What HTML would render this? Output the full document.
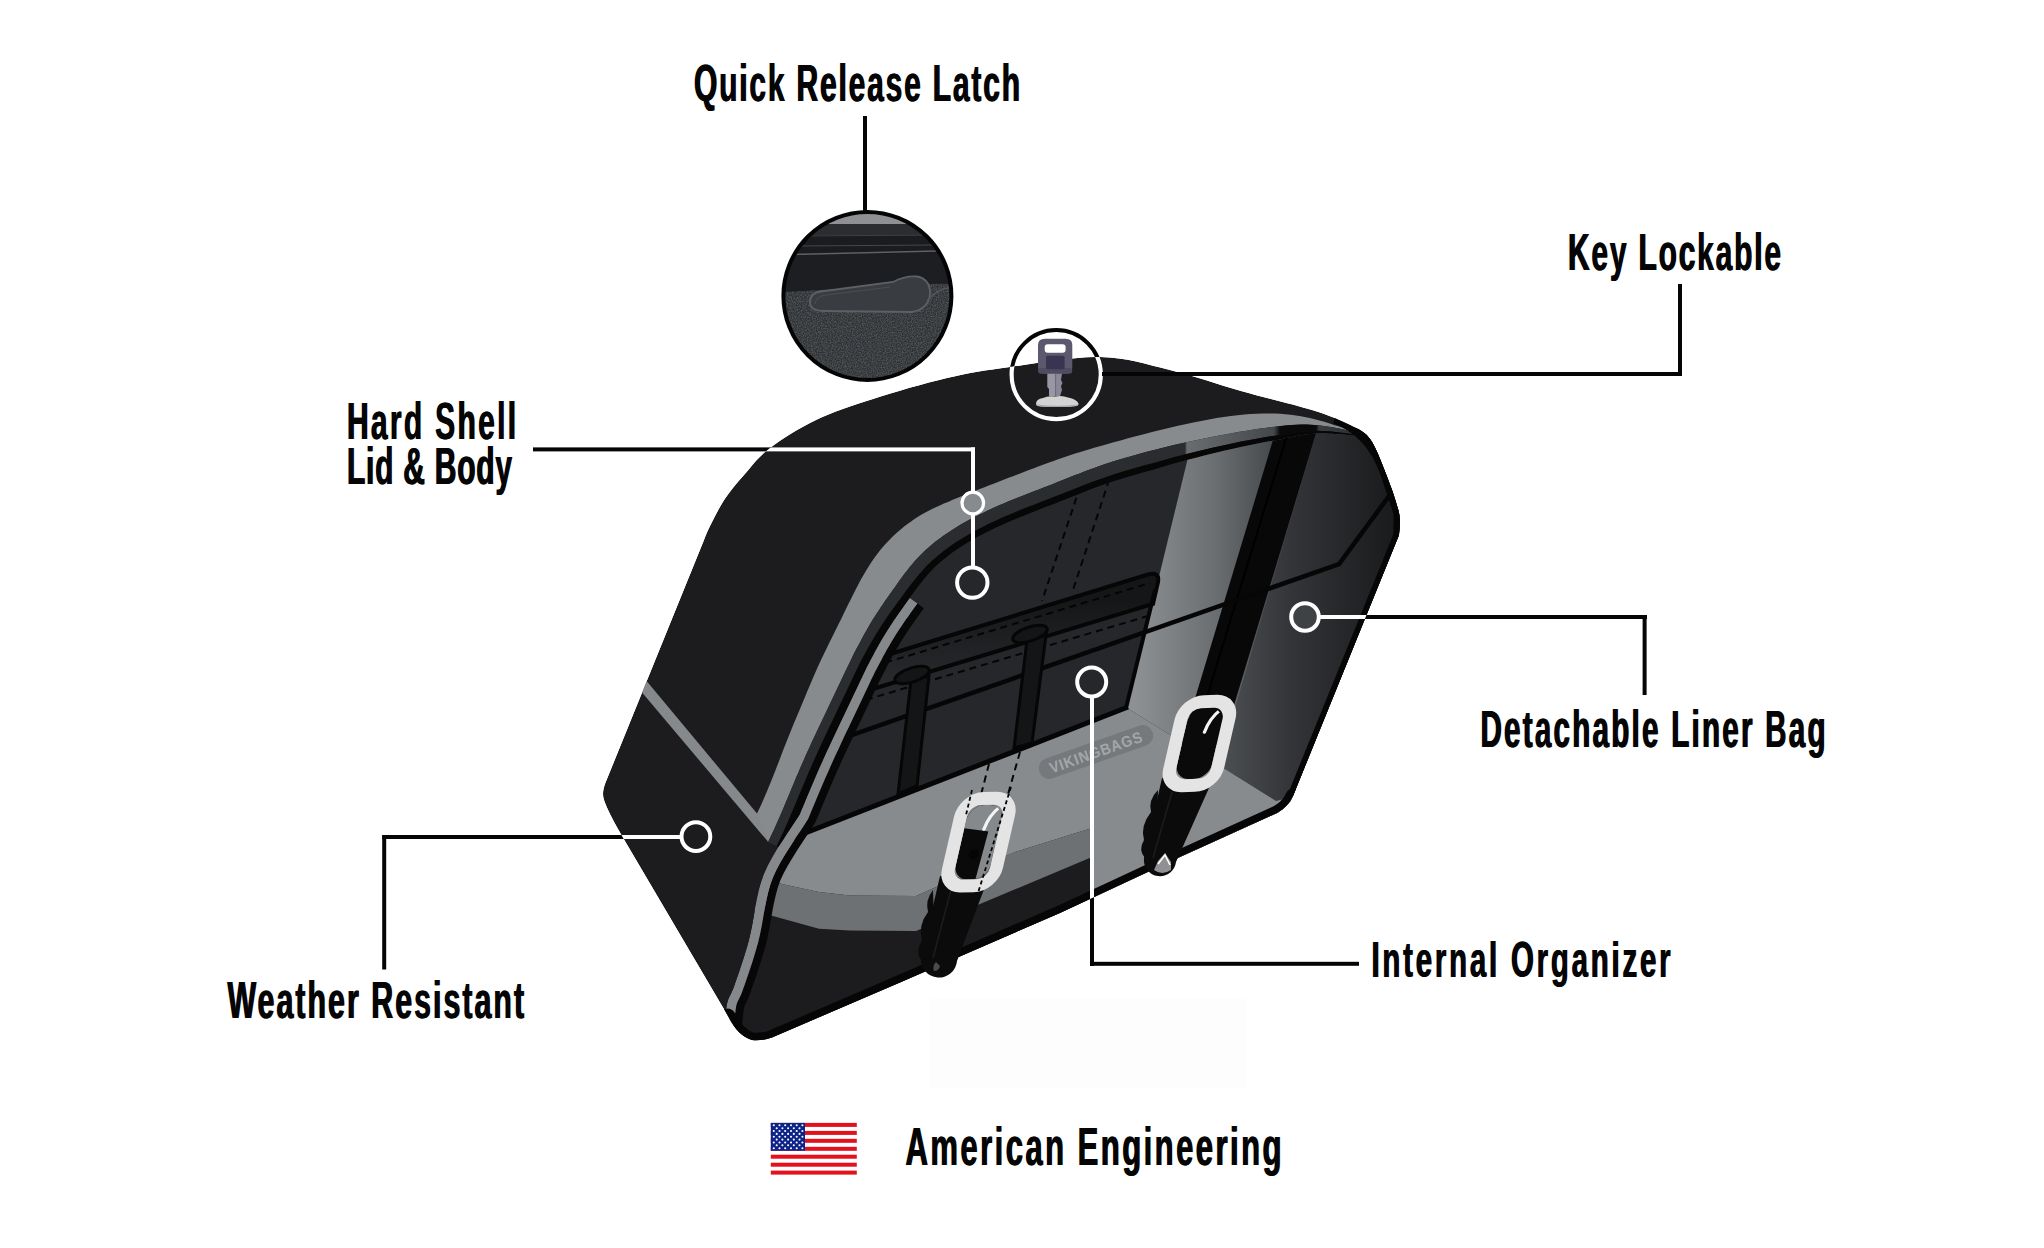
<!DOCTYPE html>
<html><head><meta charset="utf-8"><title>Saddlebag Features</title>
<style>
html,body{margin:0;padding:0;background:#fff;width:2044px;height:1248px;overflow:hidden}
svg{display:block}
text{font-family:"Liberation Sans",sans-serif;font-weight:bold;fill:#050505}
</style></head><body>
<svg width="2044" height="1248" viewBox="0 0 2044 1248">
<defs>
<linearGradient id="gLight" gradientUnits="userSpaceOnUse" x1="1135" y1="0" x2="1285" y2="0">
<stop offset="0" stop-color="#8e9194"/><stop offset="0.55" stop-color="#6a6d70"/><stop offset="1" stop-color="#3f4245"/></linearGradient>
<linearGradient id="gRight" gradientUnits="userSpaceOnUse" x1="1200" y1="0" x2="1400" y2="0">
<stop offset="0" stop-color="#55585b"/><stop offset="0.45" stop-color="#333538"/><stop offset="1" stop-color="#18191b"/></linearGradient>
<linearGradient id="gFlap" gradientUnits="userSpaceOnUse" x1="0" y1="600" x2="0" y2="690">
<stop offset="0" stop-color="#151618"/><stop offset="1" stop-color="#2a2c2f"/></linearGradient>
<linearGradient id="gTopStrip" gradientUnits="userSpaceOnUse" x1="1100" y1="0" x2="1360" y2="0">
<stop offset="0" stop-color="#2b2d30"/><stop offset="0.35" stop-color="#55585b"/><stop offset="1" stop-color="#2a2b2d"/></linearGradient>
<linearGradient id="gStrip" gradientUnits="userSpaceOnUse" x1="1100" y1="0" x2="1400" y2="0">
<stop offset="0" stop-color="#2a2c2f"/><stop offset="0.283" stop-color="#2a2c2f"/><stop offset="0.29" stop-color="#6a6d70"/><stop offset="0.58" stop-color="#45484b"/><stop offset="0.6" stop-color="#0a0a0a"/><stop offset="0.72" stop-color="#0a0a0a"/><stop offset="0.73" stop-color="#3a3c3f"/><stop offset="1" stop-color="#1e1f21"/></linearGradient>
<clipPath id="cSil"><path d="M607,779 L704,540 C705,537.7 706.6,532.8 710,526 C713.4,519.2 719,507.8 724.6,499.3 C730.2,490.9 736.4,483.7 743.8,475.3 C751.2,466.9 757,458 769,448.8 C781,439.6 798.7,428.3 816,420 C833.3,411.7 851.2,406 873,399 C894.8,392 924.2,383.3 947,378 C969.8,372.7 984.5,370.5 1010,367 C1035.5,363.5 1073.3,356.5 1100,357 C1126.7,357.5 1146.5,364.3 1170,370 C1193.5,375.7 1217.3,384.3 1241,391 C1264.7,397.7 1293.8,404.3 1312,410 C1330.2,415.7 1340.3,420.2 1350,425 C1359.7,429.8 1364,430.8 1370,439 C1376,447.2 1381.2,461.7 1386,474 C1390.8,486.3 1396.8,502.8 1399,513 C1401.2,523.2 1399,531.3 1399,535 L1293,796 Q1289,806 1277.6,812.7 L1180,857 L1060,913 L900,982.5 L772,1037.5 Q762,1041 752,1040 Q738,1036 728,1016 L622,836 Q608,812 604,800 Q601,792 607,779 Z"/></clipPath>
<clipPath id="cR"><path d="M1353,435.7 L1350.8,435.5 L1347.9,435.1 L1344.8,434.8 L1341.5,434.5 L1338.1,434.3 L1334.9,434 L1331.6,433.8 L1328.2,433.7 L1324.7,433.6 L1321.2,433.6 L1317.7,433.6 L1314,433.8 L1310.2,434.1 L1306.2,434.6 L1301.9,435.1 L1297.2,435.9 L1292.1,436.9 L1286.5,438.1 L1280.4,439.4 L1273.7,440.5 L1266.5,441.8 L1258.7,443.2 L1250.5,444.9 L1241.9,446.7 L1233,448.7 L1223.9,450.8 L1214.6,453 L1205.3,455.3 L1196,457.7 L1186.8,460.1 L1177.9,462.6 L1169.1,465.1 L1160.7,467.6 L1152.5,470 L1144.6,472.1 L1137.2,474.2 L1130.1,476.2 L1123.4,478.3 L1117.1,480.2 L1111.2,482.1 L1105.7,484 L1100.5,485.8 L1095.7,487.6 L1091,489.3 L1086.5,491.1 L1082.2,492.8 L1077.8,494.5 L1073.5,496.2 L1069.1,498 L1064.6,499.8 L1060,501.6 L1055.4,503.4 L1050.6,505.2 L1045.7,507.1 L1040.8,509 L1035.8,510.9 L1030.8,512.9 L1025.8,514.9 L1020.8,516.9 L1015.9,518.9 L1011,520.9 L1006.2,523 L1001.4,525.2 L996.7,527.3 L992.1,529.5 L987.6,531.7 L983.2,534 L978.8,536.3 L974.5,538.6 L970.3,541 L966.3,543.5 L962.3,546 L958.4,548.5 L954.7,551 L951.1,553.6 L947.6,556.3 L944.3,558.9 L941.1,561.6 L938,564.3 L935,567.1 L932.2,570 L929.5,572.8 L926.8,575.8 L924.3,578.8 L921.8,581.9 L919.3,585 L916.9,588.2 L914.5,591.5 L912.1,594.7 L909.7,598 L907.3,601.3 L905,604.5 L902.7,607.8 L900.4,611 L898.1,614.2 L895.9,617.4 L893.7,620.6 L891.5,623.9 L889.4,627.2 L887.3,630.5 L885.1,633.9 L883,637.4 L880.9,641 L878.9,644.6 L876.8,648.3 L874.7,652.1 L872.7,655.9 L870.6,659.8 L868.6,663.7 L866.6,667.6 L864.7,671.5 L862.8,675.5 L860.9,679.5 L859,683.5 L857.1,687.5 L855.2,691.5 L853.3,695.5 L851.4,699.5 L849.5,703.5 L847.6,707.5 L845.7,711.5 L843.8,715.5 L841.9,719.5 L840,723.5 L838.1,727.5 L836.2,731.5 L834.3,735.5 L832.4,739.5 L830.5,743.4 L828.7,747.4 L826.9,751.3 L825.1,755.3 L823.3,759.2 L821.5,763.2 L819.8,767.1 L818,771.1 L816.3,775.1 L814.6,779.1 L812.9,783.1 L811.2,787.1 L809.5,791.1 L807.8,795.1 L806.1,799.1 L804.5,803.1 L802.8,807 L801.2,810.8 L799.7,814.5 L796.8,819.1 L792.8,825.1 L788,832.3 L782.8,840.3 L777.4,848.8 L772.3,857.5 L767.7,866 L764,874.2 L761.1,882.3 L758.8,890.6 L756.9,899.2 L755.2,907.8 L753.7,916.4 L752.3,924.6 L750.7,932.5 L749,939.8 L747.1,946.7 L745.1,953.3 L743.1,959.7 L741.1,965.8 L739.2,971.5 L737.4,976.8 L735.7,981.6 L734.2,985.9 L732.9,989.4 L731.7,992.1 L730.7,994.2 L729.8,996 L729,997.6 L728.2,999.4 L727.6,1001.6 L726.9,1004.3 L726.3,1007.8 L725.8,1012 L725.4,1016.6 L725,1021.3 L724.7,1025.8 L724.4,1030 L724.2,1033.5 L724,1036 L741,1055 L779,1055 L1295,820 L1330,720 L1410,535 L1410,510 L1395,470 L1376,432 Z"/></clipPath>
</defs>
<rect width="2044" height="1248" fill="#fff"/>
<rect x="929.7" y="997.7" width="316" height="90" fill="#fdfdfd"/>
<g clip-path="url(#cSil)">
<path d="M607,779 L704,540 C705,537.7 706.6,532.8 710,526 C713.4,519.2 719,507.8 724.6,499.3 C730.2,490.9 736.4,483.7 743.8,475.3 C751.2,466.9 757,458 769,448.8 C781,439.6 798.7,428.3 816,420 C833.3,411.7 851.2,406 873,399 C894.8,392 924.2,383.3 947,378 C969.8,372.7 984.5,370.5 1010,367 C1035.5,363.5 1073.3,356.5 1100,357 C1126.7,357.5 1146.5,364.3 1170,370 C1193.5,375.7 1217.3,384.3 1241,391 C1264.7,397.7 1293.8,404.3 1312,410 C1330.2,415.7 1340.3,420.2 1350,425 C1359.7,429.8 1364,430.8 1370,439 C1376,447.2 1381.2,461.7 1386,474 C1390.8,486.3 1396.8,502.8 1399,513 C1401.2,523.2 1399,531.3 1399,535 L1293,796 Q1289,806 1277.6,812.7 L1180,857 L1060,913 L900,982.5 L772,1037.5 Q762,1041 752,1040 Q738,1036 728,1016 L622,836 Q608,812 604,800 Q601,792 607,779 Z" fill="#1c1c1e"/>
<polygon points="641.8,675.3 757,813.5 768.5,842.3 633.4,682.3" fill="#86898c"/>
<path d="M1354,432 L1351,430.8 L1347.1,429.3 L1342.9,427.8 L1338.5,426.3 L1334,424.9 L1329.7,423.5 L1325.1,422.1 L1320.4,420.7 L1315.7,419.5 L1310.9,418.3 L1306,417.3 L1301,416.3 L1295.9,415.5 L1290.7,414.8 L1285.4,414.3 L1280,413.8 L1274.5,413.6 L1268.8,413.5 L1262.9,413.5 L1256.9,413.7 L1250.7,414 L1244.3,414.5 L1237.6,415.2 L1230.8,416 L1223.7,417 L1216.5,418.1 L1208.9,419.4 L1201.2,420.9 L1193.3,422.4 L1185.2,424.2 L1177,426 L1168.7,428 L1160.3,430 L1152,432.1 L1143.8,434.2 L1135.8,436.3 L1128,438.3 L1120.6,440.4 L1113.6,442.3 L1106.9,444.2 L1100.7,445.9 L1095,447.6 L1089.5,449.2 L1084.5,450.7 L1079.7,452.2 L1075.1,453.6 L1070.7,455.1 L1066.3,456.5 L1061.9,458 L1057.5,459.6 L1053,461.2 L1048.4,462.8 L1043.7,464.6 L1038.8,466.3 L1033.9,468.2 L1028.9,470.1 L1023.9,472 L1018.8,473.9 L1013.7,475.9 L1008.6,477.8 L1003.6,479.8 L998.6,481.7 L993.6,483.7 L988.7,485.6 L983.9,487.5 L979.1,489.3 L974.5,491.2 L969.9,493 L965.3,494.8 L960.9,496.6 L956.5,498.3 L952.2,500.1 L948,501.9 L943.9,503.6 L939.8,505.4 L935.8,507.2 L932,509.1 L928.2,511.1 L924.4,513.1 L920.8,515.1 L917.2,517.3 L913.8,519.6 L910.4,521.9 L907.1,524.3 L903.8,526.8 L900.7,529.4 L897.6,532 L894.6,534.8 L891.7,537.5 L888.9,540.4 L886.2,543.3 L883.5,546.3 L880.9,549.3 L878.4,552.5 L875.9,555.8 L873.4,559.2 L871,562.7 L868.7,566.4 L866.3,570.2 L864,574.2 L861.6,578.3 L859.3,582.6 L857,586.9 L854.7,591.4 L852.4,595.9 L850.2,600.5 L847.9,605.1 L845.7,609.6 L843.4,614.2 L841.3,618.7 L839.1,623.1 L836.9,627.4 L834.8,631.7 L832.7,635.9 L830.7,640 L828.7,644.1 L826.7,648.2 L824.7,652.2 L822.8,656.2 L821,660.1 L819.1,664.1 L817.3,668.1 L815.6,672.1 L813.8,676 L812.1,680 L810.4,684 L808.7,688 L807,691.9 L805.4,695.9 L803.7,699.9 L802,703.9 L800.4,707.9 L798.7,711.9 L797,715.9 L795.3,720 L793.6,724.1 L791.9,728.2 L790.2,732.4 L788.5,736.7 L786.8,740.9 L785.1,745.3 L783.4,749.6 L781.7,754 L780.1,758.3 L778.4,762.7 L776.7,767 L775.1,771.2 L773.4,775.4 L771.8,779.4 L770.3,783.3 L768.7,787.1 L767.2,790.8 L765.7,794.3 L764.3,797.6 L762.9,800.7 L761.5,803.9 L760.1,807 L758.8,809.8 L757.6,812.3 L756.7,814.3 L768.1,841.9 L768.8,840.5 L769.7,838.7 L770.7,836.6 L771.8,834.3 L773,831.8 L774.1,829.4 L775.3,826.8 L776.5,824 L777.8,821.1 L779.2,817.9 L780.6,814.7 L782.1,811.3 L783.6,807.7 L785.1,804 L786.7,800.2 L788.3,796.4 L790,792.4 L791.6,788.4 L793.3,784.4 L795,780.3 L796.7,776.2 L798.5,772.2 L800.2,768.1 L802,764.1 L803.8,760.1 L805.5,756 L807.3,752 L809.2,748 L811,744 L812.8,740 L814.7,736 L816.6,732 L818.5,728 L820.4,724 L822.3,720 L824.2,716 L826.1,712 L828,708 L829.9,704 L831.8,700 L833.7,696 L835.6,692 L837.5,688 L839.4,684 L841.3,680 L843.2,676 L845.1,671.9 L847,667.9 L849,663.9 L850.9,659.9 L852.9,655.8 L854.9,651.8 L857,647.8 L859.1,643.9 L861.2,639.9 L863.3,636 L865.4,632.2 L867.6,628.5 L869.7,624.8 L871.9,621.1 L874.1,617.6 L876.4,614.1 L878.6,610.7 L880.8,607.3 L883.1,603.9 L885.4,600.6 L887.7,597.3 L890,594 L892.3,590.7 L894.7,587.4 L897.1,584 L899.5,580.6 L902,577.2 L904.5,573.8 L907.1,570.4 L909.8,567 L912.6,563.7 L915.5,560.3 L918.6,557 L921.8,553.8 L925.1,550.6 L928.6,547.4 L932.2,544.3 L935.9,541.3 L939.8,538.4 L943.7,535.5 L947.9,532.7 L952.1,529.9 L956.4,527.3 L960.8,524.6 L965.2,522.1 L969.8,519.6 L974.4,517.1 L979.1,514.7 L983.9,512.4 L988.7,510.1 L993.6,507.8 L998.6,505.6 L1003.6,503.5 L1008.6,501.3 L1013.7,499.3 L1018.8,497.2 L1023.9,495.2 L1028.9,493.2 L1033.9,491.3 L1038.9,489.4 L1043.7,487.5 L1048.5,485.7 L1053.1,483.9 L1057.6,482.1 L1062.1,480.3 L1066.5,478.6 L1070.8,476.8 L1075.2,475.1 L1079.7,473.4 L1084.3,471.6 L1089.1,469.8 L1094.1,467.9 L1099.5,466 L1105.2,464.1 L1111.3,462.1 L1117.8,460.1 L1124.7,458 L1131.9,455.9 L1139.6,453.8 L1147.7,451.6 L1156.1,449.4 L1164.8,447.3 L1173.8,445.1 L1183,443 L1192.4,440.9 L1201.9,438.9 L1211.4,437 L1220.9,435.2 L1230.3,433.4 L1239.4,431.8 L1248.2,430.4 L1256.6,429.1 L1264.6,427.9 L1272,427 L1279,426.2 L1285.4,425.5 L1291.3,425.1 L1296.7,424.8 L1301.7,424.6 L1306.3,424.6 L1310.6,424.7 L1314.7,425 L1318.5,425.3 L1322.2,425.7 L1325.8,426.2 L1329.3,426.7 L1332.7,427.3 L1336.1,428 L1339.3,428.6 L1342.6,429.3 L1345.8,430 L1349,430.7 L1351.8,431.4 L1354,432 Z" fill="#888b8e"/>
<polygon points="1354,432 1351.8,431.4 1349,430.7 1345.8,430 1342.6,429.3 1339.3,428.6 1336.1,428 1332.7,427.3 1329.3,426.7 1325.8,426.2 1322.2,425.7 1318.5,425.3 1314.7,425 1310.6,424.7 1306.3,424.6 1301.7,424.6 1296.7,424.8 1291.3,425.1 1285.4,425.5 1279,426.2 1272,427 1264.6,427.9 1256.6,429.1 1248.2,430.4 1239.4,431.8 1230.3,433.4 1220.9,435.2 1211.4,437 1201.9,438.9 1192.4,440.9 1183,443 1173.8,445.1 1164.8,447.3 1156.1,449.4 1147.7,451.6 1139.6,453.8 1131.9,455.9 1124.7,458 1117.8,460.1 1111.3,462.1 1105.2,464.1 1099.5,466 1094.1,467.9 1089.1,469.8 1084.3,471.6 1079.7,473.4 1075.2,475.1 1070.8,476.8 1066.5,478.6 1062.1,480.3 1057.6,482.1 1053.1,483.9 1048.5,485.7 1043.7,487.5 1038.9,489.4 1033.9,491.3 1028.9,493.2 1023.9,495.2 1018.8,497.2 1013.7,499.3 1008.6,501.3 1003.6,503.5 998.6,505.6 993.6,507.8 988.7,510.1 983.9,512.4 979.1,514.7 974.4,517.1 969.8,519.6 965.2,522.1 960.8,524.6 956.4,527.3 952.1,529.9 947.9,532.7 943.7,535.5 939.8,538.4 935.9,541.3 932.2,544.3 928.6,547.4 925.1,550.6 921.8,553.8 918.6,557 915.5,560.3 912.6,563.7 909.8,567 907.1,570.4 904.5,573.8 902,577.2 899.5,580.6 897.1,584 894.7,587.4 892.3,590.7 890,594 887.7,597.3 885.4,600.6 883.1,603.9 880.8,607.3 878.6,610.7 876.4,614.1 874.1,617.6 871.9,621.1 869.7,624.8 867.6,628.5 865.4,632.2 863.3,636 861.2,639.9 859.1,643.9 857,647.8 854.9,651.8 852.9,655.8 850.9,659.9 849,663.9 847,667.9 845.1,671.9 843.2,676 841.3,680 839.4,684 837.5,688 835.6,692 833.7,696 831.8,700 829.9,704 828,708 826.1,712 824.2,716 822.3,720 820.4,724 818.5,728 816.6,732 814.7,736 812.8,740 811,744 809.2,748 807.3,752 805.5,756 803.8,760.1 802,764.1 800.2,768.1 798.5,772.2 796.7,776.2 795,780.3 793.3,784.4 791.6,788.4 790,792.4 788.3,796.4 786.7,800.2 785.1,804 783.6,807.7 782.1,811.3 780.6,814.7 779.2,817.9 777.8,821.1 776.5,824 775.3,826.8 774.1,829.4 773,831.8 771.8,834.3 770.7,836.6 769.7,838.7 768.8,840.5 768.1,841.9 776.6,846.1 777.3,844.7 778.2,842.9 779.3,840.7 780.4,838.3 781.6,835.8 782.7,833.4 783.9,830.7 785.2,827.9 786.5,824.9 787.9,821.7 789.3,818.4 790.8,815 792.3,811.4 793.9,807.7 795.5,803.9 797.1,800 798.7,796.1 800.4,792.1 802.1,788 803.8,784 805.5,780 807.2,775.9 808.9,771.9 810.7,767.9 812.4,763.9 814.2,759.9 816,755.9 817.8,751.9 819.6,748 821.5,744 823.3,740 825.2,736.1 827.1,732.1 828.9,728.1 830.9,724.1 832.8,720.1 834.7,716.1 836.6,712.1 838.5,708.1 840.4,704.1 842.3,700.1 844.2,696.1 846.1,692 848,688 849.9,684 851.8,680 853.7,676 855.6,672 857.5,668 859.5,664.1 861.5,660.1 863.6,656.2 865.7,652.3 867.8,648.5 870,644.7 872.1,640.9 874.3,637.2 876.5,633.6 878.7,630.1 880.9,626.6 883.1,623.2 885.3,619.9 887.6,616.6 889.8,613.3 892.1,610.1 894.4,606.9 896.8,603.6 899.1,600.4 901.5,597.2 903.9,593.9 906.3,590.6 908.8,587.4 911.3,584.1 913.8,580.9 916.4,577.7 919,574.5 921.7,571.4 924.5,568.3 927.3,565.3 930.3,562.4 933.5,559.5 936.7,556.7 940.1,553.9 943.6,551.1 947.2,548.4 950.9,545.7 954.8,543.1 958.8,540.5 962.9,537.9 967.1,535.4 971.3,533 975.7,530.6 980.2,528.2 984.7,525.9 989.3,523.6 994,521.4 998.8,519.2 1003.6,517.1 1008.5,515 1013.4,512.9 1018.4,510.8 1023.4,508.8 1028.4,506.8 1033.5,504.9 1038.4,502.9 1043.4,501 1048.2,499.2 1053,497.3 1057.7,495.5 1062.2,493.7 1066.7,491.9 1071.1,490.2 1075.4,488.5 1079.8,486.7 1084.2,485 1088.7,483.3 1093.4,481.5 1098.4,479.7 1103.6,477.9 1109.2,476 1115.1,474 1121.5,472 1128.2,470 1135.4,467.9 1142.9,465.8 1150.8,463.7 1159.1,461.4 1167.6,459 1176.5,456.6 1185.5,454.3 1194.8,451.9 1204.1,449.7 1213.5,447.5 1222.9,445.4 1232.1,443.5 1241.1,441.6 1249.7,439.9 1258,438.4 1265.8,437 1273.1,435.9 1279.9,434.9 1286.1,433.8 1291.8,432.8 1297,432.1 1301.8,431.5 1306.2,431.2 1310.4,430.9 1314.3,430.8 1318,430.8 1321.6,430.9 1325.1,431.1 1328.6,431.3 1332,431.6 1335.3,432 1338.5,432.3 1341.9,432.7 1345.1,433.1 1348.3,433.6 1351.1,434.1 1353.4,434.5" fill="url(#gStrip)"/>
<polygon points="1353.4,434.5 1351.1,434.1 1348.3,433.6 1345.1,433.1 1341.9,432.7 1338.5,432.3 1335.3,432 1332,431.6 1328.6,431.3 1325.1,431.1 1321.6,430.9 1318,430.8 1314.3,430.8 1310.4,430.9 1306.2,431.2 1301.8,431.5 1297,432.1 1291.8,432.8 1286.1,433.8 1279.9,434.9 1273.1,435.9 1265.8,437 1258,438.4 1249.7,439.9 1241.1,441.6 1232.1,443.5 1222.9,445.4 1213.5,447.5 1204.1,449.7 1194.8,451.9 1185.5,454.3 1176.5,456.6 1167.6,459 1159.1,461.4 1150.8,463.7 1142.9,465.8 1135.4,467.9 1128.2,470 1121.5,472 1115.1,474 1109.2,476 1103.6,477.9 1098.4,479.7 1093.4,481.5 1088.7,483.3 1084.2,485 1079.8,486.7 1075.4,488.5 1071.1,490.2 1066.7,491.9 1062.2,493.7 1057.7,495.5 1053,497.3 1048.2,499.2 1043.4,501 1038.4,502.9 1033.5,504.9 1028.4,506.8 1023.4,508.8 1018.4,510.8 1013.4,512.9 1008.5,515 1003.6,517.1 998.8,519.2 994,521.4 989.3,523.6 984.7,525.9 980.2,528.2 975.7,530.6 971.3,533 967.1,535.4 962.9,537.9 958.8,540.5 954.8,543.1 950.9,545.7 947.2,548.4 943.6,551.1 940.1,553.9 936.7,556.7 933.5,559.5 930.3,562.4 927.3,565.3 924.5,568.3 921.7,571.4 919,574.5 916.4,577.7 913.8,580.9 911.3,584.1 908.8,587.4 906.3,590.6 903.9,593.9 901.5,597.2 899.1,600.4 896.8,603.6 894.4,606.9 892.1,610.1 889.8,613.3 887.6,616.6 885.3,619.9 883.1,623.2 880.9,626.6 878.7,630.1 876.5,633.6 874.3,637.2 872.1,640.9 870,644.7 867.8,648.5 865.7,652.3 863.6,656.2 861.5,660.1 859.5,664.1 857.5,668 855.6,672 853.7,676 851.8,680 849.9,684 848,688 846.1,692 844.2,696.1 842.3,700.1 840.4,704.1 838.5,708.1 836.6,712.1 834.7,716.1 832.8,720.1 830.9,724.1 828.9,728.1 827.1,732.1 825.2,736.1 823.3,740 821.5,744 819.6,748 817.8,751.9 816,755.9 814.2,759.9 812.4,763.9 810.7,767.9 808.9,771.9 807.2,775.9 805.5,780 803.8,784 802.1,788 800.4,792.1 798.7,796.1 797.1,800 795.5,803.9 793.9,807.7 792.3,811.4 790.8,815 789.3,818.4 787.9,821.7 786.5,824.9 785.2,827.9 783.9,830.7 782.7,833.4 781.6,835.8 780.4,838.3 779.3,840.7 778.2,842.9 777.3,844.7 776.6,846.1 783.8,849.7 784.5,848.3 785.4,846.4 786.5,844.1 787.7,841.7 788.8,839.1 790,836.7 791.2,834 792.5,831.1 793.8,828.1 795.2,824.9 796.7,821.6 798.2,818.1 799.7,814.5 801.2,810.8 802.8,807 804.5,803.1 806.1,799.1 807.8,795.1 809.5,791.1 811.2,787.1 812.9,783.1 814.6,779.1 816.3,775.1 818,771.1 819.8,767.1 821.5,763.2 823.3,759.2 825.1,755.3 826.9,751.3 828.7,747.4 830.5,743.4 832.4,739.5 834.3,735.5 836.2,731.5 838.1,727.5 840,723.5 841.9,719.5 843.8,715.5 845.7,711.5 847.6,707.5 849.5,703.5 851.4,699.5 853.3,695.5 855.2,691.5 857.1,687.5 859,683.5 860.9,679.5 862.8,675.5 864.7,671.5 866.6,667.6 868.6,663.7 870.6,659.8 872.7,655.9 874.7,652.1 876.8,648.3 878.9,644.6 880.9,641 883,637.4 885.1,633.9 887.3,630.5 889.4,627.2 891.5,623.9 893.7,620.6 895.9,617.4 898.1,614.2 900.4,611 902.7,607.8 905,604.5 907.3,601.3 909.7,598 912.1,594.7 914.5,591.5 916.9,588.2 919.3,585 921.8,581.9 924.3,578.8 926.8,575.8 929.5,572.8 932.2,570 935,567.1 938,564.3 941.1,561.6 944.3,558.9 947.6,556.3 951.1,553.6 954.7,551 958.4,548.5 962.3,546 966.3,543.5 970.3,541 974.5,538.6 978.8,536.3 983.2,534 987.6,531.7 992.1,529.5 996.7,527.3 1001.4,525.2 1006.2,523 1011,520.9 1015.9,518.9 1020.8,516.9 1025.8,514.9 1030.8,512.9 1035.8,510.9 1040.8,509 1045.7,507.1 1050.6,505.2 1055.4,503.4 1060,501.6 1064.6,499.8 1069.1,498 1073.5,496.2 1077.8,494.5 1082.2,492.8 1086.5,491.1 1091,489.3 1095.7,487.6 1100.5,485.8 1105.7,484 1111.2,482.1 1117.1,480.2 1123.4,478.3 1130.1,476.2 1137.2,474.2 1144.6,472.1 1152.5,470 1160.7,467.6 1169.1,465.1 1177.9,462.6 1186.8,460.1 1196,457.7 1205.3,455.3 1214.6,453 1223.9,450.8 1233,448.7 1241.9,446.7 1250.5,444.9 1258.7,443.2 1266.5,441.8 1273.7,440.5 1280.4,439.4 1286.5,438.1 1292.1,436.9 1297.2,435.9 1301.9,435.1 1306.2,434.6 1310.2,434.1 1314,433.8 1317.7,433.6 1321.2,433.6 1324.7,433.6 1328.2,433.7 1331.6,433.8 1334.9,434 1338.1,434.3 1341.5,434.5 1344.8,434.8 1347.9,435.1 1350.8,435.5 1353,435.7" fill="#070707"/>
<g clip-path="url(#cR)">
<path d="M1353,435.7 L1350.8,435.5 L1347.9,435.1 L1344.8,434.8 L1341.5,434.5 L1338.1,434.3 L1334.9,434 L1331.6,433.8 L1328.2,433.7 L1324.7,433.6 L1321.2,433.6 L1317.7,433.6 L1314,433.8 L1310.2,434.1 L1306.2,434.6 L1301.9,435.1 L1297.2,435.9 L1292.1,436.9 L1286.5,438.1 L1280.4,439.4 L1273.7,440.5 L1266.5,441.8 L1258.7,443.2 L1250.5,444.9 L1241.9,446.7 L1233,448.7 L1223.9,450.8 L1214.6,453 L1205.3,455.3 L1196,457.7 L1186.8,460.1 L1177.9,462.6 L1169.1,465.1 L1160.7,467.6 L1152.5,470 L1144.6,472.1 L1137.2,474.2 L1130.1,476.2 L1123.4,478.3 L1117.1,480.2 L1111.2,482.1 L1105.7,484 L1100.5,485.8 L1095.7,487.6 L1091,489.3 L1086.5,491.1 L1082.2,492.8 L1077.8,494.5 L1073.5,496.2 L1069.1,498 L1064.6,499.8 L1060,501.6 L1055.4,503.4 L1050.6,505.2 L1045.7,507.1 L1040.8,509 L1035.8,510.9 L1030.8,512.9 L1025.8,514.9 L1020.8,516.9 L1015.9,518.9 L1011,520.9 L1006.2,523 L1001.4,525.2 L996.7,527.3 L992.1,529.5 L987.6,531.7 L983.2,534 L978.8,536.3 L974.5,538.6 L970.3,541 L966.3,543.5 L962.3,546 L958.4,548.5 L954.7,551 L951.1,553.6 L947.6,556.3 L944.3,558.9 L941.1,561.6 L938,564.3 L935,567.1 L932.2,570 L929.5,572.8 L926.8,575.8 L924.3,578.8 L921.8,581.9 L919.3,585 L916.9,588.2 L914.5,591.5 L912.1,594.7 L909.7,598 L907.3,601.3 L905,604.5 L902.7,607.8 L900.4,611 L898.1,614.2 L895.9,617.4 L893.7,620.6 L891.5,623.9 L889.4,627.2 L887.3,630.5 L885.1,633.9 L883,637.4 L880.9,641 L878.9,644.6 L876.8,648.3 L874.7,652.1 L872.7,655.9 L870.6,659.8 L868.6,663.7 L866.6,667.6 L864.7,671.5 L862.8,675.5 L860.9,679.5 L859,683.5 L857.1,687.5 L855.2,691.5 L853.3,695.5 L851.4,699.5 L849.5,703.5 L847.6,707.5 L845.7,711.5 L843.8,715.5 L841.9,719.5 L840,723.5 L838.1,727.5 L836.2,731.5 L834.3,735.5 L832.4,739.5 L830.5,743.4 L828.7,747.4 L826.9,751.3 L825.1,755.3 L823.3,759.2 L821.5,763.2 L819.8,767.1 L818,771.1 L816.3,775.1 L814.6,779.1 L812.9,783.1 L811.2,787.1 L809.5,791.1 L807.8,795.1 L806.1,799.1 L804.5,803.1 L802.8,807 L801.2,810.8 L799.7,814.5 L796.8,819.1 L792.8,825.1 L788,832.3 L782.8,840.3 L777.4,848.8 L772.3,857.5 L767.7,866 L764,874.2 L761.1,882.3 L758.8,890.6 L756.9,899.2 L755.2,907.8 L753.7,916.4 L752.3,924.6 L750.7,932.5 L749,939.8 L747.1,946.7 L745.1,953.3 L743.1,959.7 L741.1,965.8 L739.2,971.5 L737.4,976.8 L735.7,981.6 L734.2,985.9 L732.9,989.4 L731.7,992.1 L730.7,994.2 L729.8,996 L729,997.6 L728.2,999.4 L727.6,1001.6 L726.9,1004.3 L726.3,1007.8 L725.8,1012 L725.4,1016.6 L725,1021.3 L724.7,1025.8 L724.4,1030 L724.2,1033.5 L724,1036 L741,1055 L779,1055 L1295,820 L1330,720 L1410,535 L1410,510 L1395,470 L1376,432 Z" fill="#1c1c1e"/>
<polygon points="700,380 1360,380 1192,441 1127,708 700,874" fill="#25272a"/>
<polygon points="1192,441 1200,415 1420,415 1420,810 1276,801 1127,708" fill="url(#gLight)"/>
<polygon points="1320,420 1420,420 1420,860 1190,860" fill="url(#gRight)"/>
<polygon points="1279,420 1320,420 1222,745 1181,745" fill="#080808"/>
<line x1="1288" y1="432" x2="1206" y2="700" stroke="#000" stroke-width="2"/>
<polygon points="690,878 1127,708 1276,801 1320,790 1320,910 1092,910 1092,828 1015,852 916,896 850,895.6 819,892 784,884.5 690,858" fill="#888b8e"/>
<polygon points="690,858 784,884.5 819,892 850,895.6 916,896 1015,852 1092,828 1092,857 916,931 850,930.6 819,928.8 769.3,915 690,892" fill="#6e7174"/>
<g transform="translate(1096,752) rotate(-19.4)"><rect x="-60" y="-10.5" width="120" height="21" rx="10.5" fill="#76797c"/><text x="0" y="5.6" text-anchor="middle" font-size="15.5" textLength="98" lengthAdjust="spacingAndGlyphs" style="fill:#a3a6a9;font-weight:bold;letter-spacing:1px">VIKINGBAGS</text></g>
<line x1="690" y1="878" x2="1128" y2="707" stroke="#060606" stroke-width="5"/>
<polyline points="690,792 1339,564 1395,488" fill="none" stroke="#060606" stroke-width="4.5"/>
<path d="M887,655 L1148,574.5 Q1160,571.5 1158,582 L1153,604 L866,691 Z" fill="url(#gFlap)" stroke="#060606" stroke-width="4"/>
<line x1="1155" y1="590" x2="1126" y2="708" stroke="#060606" stroke-width="4"/>
<g fill="none" stroke="#050505" stroke-width="2" stroke-dasharray="7,5">
<line x1="885.4" y1="662.6" x2="1150" y2="583"/>
<line x1="865.9" y1="699.8" x2="1148" y2="616"/>
<line x1="1084" y1="475" x2="1042" y2="601"/>
<line x1="1113" y1="468" x2="1072" y2="593"/>
<line x1="989" y1="764" x2="972" y2="829"/>
<line x1="1020" y1="752" x2="996" y2="837"/>
</g>
<polygon points="911,680 929,676 917,786 898,794" fill="#141517" stroke="#060606" stroke-width="3"/>
<polygon points="1027,640 1046,635 1032,743 1014,748" fill="#141517" stroke="#060606" stroke-width="3"/>
<ellipse cx="912" cy="675" rx="18" ry="7" transform="rotate(-18 912 675)" fill="#141517" stroke="#060606" stroke-width="3"/>
<ellipse cx="1030" cy="634" rx="18" ry="7" transform="rotate(-18 1030 634)" fill="#141517" stroke="#060606" stroke-width="3"/>
<polygon points="917.4,603.6 915,606.8 912.7,610 910.4,613.3 908.2,616.5 905.9,619.6 903.7,622.8 901.6,625.9 899.5,629.1 897.4,632.3 895.3,635.6 893.2,638.9 891.2,642.3 889.2,645.8 887.1,649.3 885.1,652.9 883.1,656.6 881.1,660.4 879.1,664.2 877.1,668 875.1,671.8 873.2,675.7 871.3,679.6 869.5,683.6 867.6,687.5 865.7,691.5 863.8,695.5 861.9,699.5 860,703.5 858.1,707.5 856.2,711.6 854.3,715.6 852.4,719.6 850.5,723.6 848.6,727.6 846.6,731.6 844.7,735.6 842.9,739.6 841,743.5 839.2,747.4 837.3,751.4 835.5,755.3 833.7,759.2 832,763.1 830.2,767 828.5,770.9 826.7,774.9 825,778.8 823.3,782.8 821.6,786.8 819.9,790.8 818.2,794.8 816.5,798.8 814.9,802.8 813.2,806.7 811.6,810.6 810,814.5 808.1,819 804.8,824.3 800.7,830.4 795.9,837.5 790.8,845.4 785.5,853.7 780.6,862.1 776.2,870.3 772.8,877.8 770.2,885.1 768,893 766.2,901.2 764.5,909.6 763.1,918 761.6,926.4 760,934.5 758.2,942.2 756.2,949.3 754.2,956.1 752.2,962.6 750.1,968.8 748.2,974.6 746.3,979.9 744.7,984.7 743.1,989.1 741.7,992.9 740.4,996.1 739.2,998.5 738.3,1000.3 737.6,1001.6 737.2,1002.7 736.7,1004.1 736.2,1006.1 735.7,1009.2 735.2,1013.1 734.8,1017.4 734.5,1022 734.2,1026.5 733.9,1030.6 733.7,1034.1 733.5,1036.7 741.4,1037.3 741.7,1034.7 741.9,1031.1 742.1,1027 742.4,1022.6 742.8,1018.1 743.2,1013.9 743.6,1010.3 744.1,1007.7 744.4,1006.2 744.7,1005.4 744.9,1004.9 745.4,1004 746.4,1002.1 747.7,999.4 749.2,995.8 750.7,991.8 752.2,987.3 753.9,982.5 755.8,977.2 757.7,971.3 759.8,965.1 761.8,958.5 763.9,951.5 766,944.1 767.8,936.2 769.5,927.8 770.9,919.4 772.4,911 774,902.8 775.8,894.9 777.8,887.5 780.2,880.8 783.4,873.8 787.6,866 792.4,857.9 797.5,849.7 802.6,841.9 807.4,834.8 811.5,828.6 815.1,822.8 817.4,817.6 819,813.7 820.6,809.8 822.3,805.9 823.9,801.9 825.6,797.9 827.3,793.9 829,789.9 830.7,786 832.4,782 834.1,778.1 835.8,774.2 837.5,770.3 839.3,766.4 841,762.5 842.8,758.6 844.6,754.7 846.4,750.8 848.2,746.9 850.1,743 852,739 853.9,735.1 855.8,731.1 857.7,727.1 859.6,723.1 861.5,719 863.4,715 865.3,711 867.3,706.9 869.1,702.9 871,698.9 872.9,694.9 874.8,691 876.7,687 878.6,683.1 880.4,679.2 882.3,675.4 884.2,671.7 886.2,667.9 888.1,664.1 890.1,660.4 892.1,656.8 894.1,653.3 896.1,649.8 898.1,646.4 900.1,643.1 902.1,639.8 904.1,636.7 906.1,633.5 908.2,630.4 910.3,627.3 912.5,624.2 914.7,621.1 916.9,617.9 919.2,614.7 921.5,611.5 923.9,608.2" fill="#070707"/>
<polygon points="909.7,598 907.3,601.3 905,604.5 902.7,607.8 900.4,611 898.1,614.2 895.9,617.4 893.7,620.6 891.5,623.9 889.4,627.2 887.3,630.5 885.1,633.9 883,637.4 880.9,641 878.9,644.6 876.8,648.3 874.7,652.1 872.7,655.9 870.6,659.8 868.6,663.7 866.6,667.6 864.7,671.5 862.8,675.5 860.9,679.5 859,683.5 857.1,687.5 855.2,691.5 853.3,695.5 851.4,699.5 849.5,703.5 847.6,707.5 845.7,711.5 843.8,715.5 841.9,719.5 840,723.5 838.1,727.5 836.2,731.5 834.3,735.5 832.4,739.5 830.5,743.4 828.7,747.4 826.9,751.3 825.1,755.3 823.3,759.2 821.5,763.2 819.8,767.1 818,771.1 816.3,775.1 814.6,779.1 812.9,783.1 811.2,787.1 809.5,791.1 807.8,795.1 806.1,799.1 804.5,803.1 802.8,807 801.2,810.8 799.7,814.5 796.8,819.1 792.8,825.1 788,832.3 782.8,840.3 777.4,848.8 772.3,857.5 767.7,866 764,874.2 761.1,882.3 758.8,890.6 756.9,899.2 755.2,907.8 753.7,916.4 752.3,924.6 750.7,932.5 749,939.8 747.1,946.7 745.1,953.3 743.1,959.7 741.1,965.8 739.2,971.5 737.4,976.8 735.7,981.6 734.2,985.9 732.9,989.4 731.7,992.1 730.7,994.2 729.8,996 729,997.6 728.2,999.4 727.6,1001.6 726.9,1004.3 726.3,1007.8 725.8,1012 725.4,1016.6 725,1021.3 724.7,1025.8 724.4,1030 724.2,1033.5 724,1036 733.5,1036.7 733.7,1034.1 733.9,1030.6 734.2,1026.5 734.5,1022 734.8,1017.4 735.2,1013.1 735.7,1009.2 736.2,1006.1 736.7,1004.1 737.2,1002.7 737.6,1001.6 738.3,1000.3 739.2,998.5 740.4,996.1 741.7,992.9 743.1,989.1 744.7,984.7 746.3,979.9 748.2,974.6 750.1,968.8 752.2,962.6 754.2,956.1 756.2,949.3 758.2,942.2 760,934.5 761.6,926.4 763.1,918 764.5,909.6 766.2,901.2 768,893 770.2,885.1 772.8,877.8 776.2,870.3 780.6,862.1 785.5,853.7 790.8,845.4 795.9,837.5 800.7,830.4 804.8,824.3 808.1,819 810,814.5 811.6,810.6 813.2,806.7 814.9,802.8 816.5,798.8 818.2,794.8 819.9,790.8 821.6,786.8 823.3,782.8 825,778.8 826.7,774.9 828.5,770.9 830.2,767 832,763.1 833.7,759.2 835.5,755.3 837.3,751.4 839.2,747.4 841,743.5 842.9,739.6 844.7,735.6 846.6,731.6 848.6,727.6 850.5,723.6 852.4,719.6 854.3,715.6 856.2,711.6 858.1,707.5 860,703.5 861.9,699.5 863.8,695.5 865.7,691.5 867.6,687.5 869.5,683.6 871.3,679.6 873.2,675.7 875.1,671.8 877.1,668 879.1,664.2 881.1,660.4 883.1,656.6 885.1,652.9 887.1,649.3 889.2,645.8 891.2,642.3 893.2,638.9 895.3,635.6 897.4,632.3 899.5,629.1 901.6,625.9 903.7,622.8 905.9,619.6 908.2,616.5 910.4,613.3 912.7,610 915,606.8 917.4,603.6" fill="#86898c"/>
</g>
<path d="M1335,418 Q1372,432 1386,474 L1399,513 L1399,535 L1293,796" fill="none" stroke="#060606" stroke-width="11"/>
<path d="M1293,796 Q1289,806 1277.6,812.7 L1180,857 L1060,913 L900,982.5 L772,1037.5 Q762,1041 752,1040 Q738,1036 728,1016" fill="none" stroke="#060606" stroke-width="15" stroke-linecap="round"/>
</g>
<path d="M940,876 L986,884 L957,961 A18,18 0 0 1 921,958 Z" fill="#0b0b0b"/>
<path d="M933,890 Q925,900 928,912 Q918,925 922,940 Q915,952 921,960 L935,955 Z" fill="#0b0b0b"/>
<line x1="952" y1="886" x2="933" y2="958" stroke="#1b1c1e" stroke-width="1.6"/>
<path d="M936,962 q-4,4 -2,9 q5,0 6,-5 z" fill="#4a4b4d"/>
<g transform="matrix(1,-0.02,-0.23,1,978.5,842.2)"><clipPath id="ch978"><rect x="-17.5" y="-37.2" width="35" height="74.5" rx="15"/></clipPath><g clip-path="url(#ch978)"><rect x="-17.5" y="-37.2" width="35" height="74.5" fill="#0a0a0a"/><polygon points="-17.5,-37.2 17.5,-37.2 17.5,-9.2 -17.5,-14.2" fill="#86898c"/><polygon points="8.5,-37.2 17.5,-37.2 17.5,37.2 5.5,37.2" fill="#86898c"/><circle cx="-2" cy="12" r="5" fill="#050505"/><path d="M13.5,-35.2 Q4.5,-27.2 2.5,-13.2" stroke="#f4f4f4" stroke-width="3.5" fill="none" stroke-linecap="round"/></g><rect x="-24" y="-43.8" width="48" height="87.5" rx="17.5" fill="none" stroke="#e4e4e4" stroke-width="13"/></g>
<path d="M972,790 L966,815 M1011,787 L978,893" stroke="#050505" stroke-width="1.8" stroke-dasharray="4,3"/>
<path d="M1162,778 L1209,788 L1176,862 A16,16 0 0 1 1144,858 Z" fill="#0b0b0b"/>
<path d="M1158,790 Q1148,800 1151,812 Q1140,826 1144,840 Q1138,850 1145,858 L1156,856 Z" fill="#0b0b0b"/>
<line x1="1172" y1="792" x2="1153" y2="858" stroke="#1b1c1e" stroke-width="1.6"/>
<path d="M1154,870 L1158,861 L1165,853 L1171,862 L1171,870 Q1162,876 1154,870 Z" fill="#8e9093"/>
<path d="M1158,864 L1165,855 L1170,865" fill="none" stroke="#fff" stroke-width="1.6"/>
<g transform="matrix(1,-0.02,-0.23,1,1199.4,743.5)"><clipPath id="ch1199"><rect x="-17.5" y="-35.5" width="35" height="71" rx="15"/></clipPath><g clip-path="url(#ch1199)"><rect x="-17.5" y="-35.5" width="35" height="71" fill="#0a0a0a"/><path d="M13.5,-33.5 Q4.5,-25.5 2.5,-11.5" stroke="#f4f4f4" stroke-width="3.5" fill="none" stroke-linecap="round"/></g><rect x="-24" y="-42" width="48" height="84" rx="17.5" fill="none" stroke="#e4e4e4" stroke-width="13"/></g>
<g fill="#050505">
<rect x="863" y="116" width="4" height="95"/>
</g>
<g>
<clipPath id="cLatch"><circle cx="867.4" cy="295.9" r="84"/></clipPath>
<g clip-path="url(#cLatch)">
<filter id="fNoise" x="0" y="0" width="1" height="1"><feTurbulence type="fractalNoise" baseFrequency="0.8" numOctaves="2" seed="3"/><feColorMatrix values="0 0 0 0 0.45  0 0 0 0 0.47  0 0 0 0 0.5  0 0 0 1.1 -0.35"/><feComposite in2="SourceGraphic" operator="in"/></filter>
<rect x="780" y="209" width="175" height="175" fill="#1c1e21"/>
<rect x="780" y="209" width="175" height="15" fill="#8e9093"/>
<rect x="780" y="224" width="175" height="11" fill="#2b2d30"/>
<path d="M780,235 L955,235 L955,252 L780,256 Z" fill="#1a1c1f"/>
<line x1="795" y1="236" x2="945" y2="235" stroke="#3e4043" stroke-width="1.2"/>
<line x1="798" y1="246" x2="935" y2="245" stroke="#45474a" stroke-width="1.2"/>
<line x1="790" y1="254.5" x2="937" y2="251" stroke="#5f6164" stroke-width="1.4"/>
<path d="M780,292 Q830,290 880,286 Q930,283 955,284 L955,384 L780,384 Z" fill="#2e3134"/>
<path d="M780,292 Q830,290 880,286 Q930,283 955,284 L955,384 L780,384 Z" fill="#fff" filter="url(#fNoise)" opacity="0.55"/>
<path d="M810,302 Q810,293 821,291.5 L893,282 Q905,275.5 917,276.5 Q930,279 930,293 Q929,309 912,312 L824,311 Q810,311 810,302 Z" fill="#393c40" stroke="#5d6064" stroke-width="1.8"/>
<path d="M815,304 Q816,296 826,295 L890,287" fill="none" stroke="#4b4e52" stroke-width="1.2"/>
<path d="M927,301 Q936,289 952,287" fill="none" stroke="#55585c" stroke-width="1.5"/>
</g>
<circle cx="867.4" cy="295.9" r="84" fill="none" stroke="#050505" stroke-width="4"/>
</g>
<clipPath id="cKeyIn"><path d="M607,779 L704,540 C705,537.7 706.6,532.8 710,526 C713.4,519.2 719,507.8 724.6,499.3 C730.2,490.9 736.4,483.7 743.8,475.3 C751.2,466.9 757,458 769,448.8 C781,439.6 798.7,428.3 816,420 C833.3,411.7 851.2,406 873,399 C894.8,392 924.2,383.3 947,378 C969.8,372.7 984.5,370.5 1010,367 C1035.5,363.5 1073.3,356.5 1100,357 C1126.7,357.5 1146.5,364.3 1170,370 C1193.5,375.7 1217.3,384.3 1241,391 C1264.7,397.7 1293.8,404.3 1312,410 C1330.2,415.7 1340.3,420.2 1350,425 C1359.7,429.8 1364,430.8 1370,439 C1376,447.2 1381.2,461.7 1386,474 C1390.8,486.3 1396.8,502.8 1399,513 C1401.2,523.2 1399,531.3 1399,535 L1293,796 Q1289,806 1277.6,812.7 L1180,857 L1060,913 L900,982.5 L772,1037.5 Q762,1041 752,1040 Q738,1036 728,1016 L622,836 Q608,812 604,800 Q601,792 607,779 Z"/></clipPath>
<circle cx="1056.2" cy="374.6" r="44.6" fill="none" stroke="#050505" stroke-width="4"/>
<circle cx="1056.2" cy="374.6" r="44.6" fill="none" stroke="#fff" stroke-width="4.2" clip-path="url(#cKeyIn)"/>
<g>
<path d="M1038,345 Q1038,338.7 1045,338.7 L1065.5,338.7 Q1072.3,338.7 1072.3,345 L1072.3,367 Q1072.3,373.7 1065.5,373.7 L1045,373.7 Q1038,373.7 1038,367 Z" fill="#5c586d"/>
<rect x="1038" y="368" width="34.3" height="5.7" rx="3" fill="#4f4b61"/>
<rect x="1044.7" y="344.2" width="20.9" height="8.6" rx="3" fill="#fff"/>
<rect x="1046" y="355.7" width="18.6" height="13.5" rx="1.5" fill="#39344f"/>
<path d="M1047.3,373.7 L1055.6,373.7 L1055.6,396 L1049,396 L1049,389 L1047.3,387 Z" fill="#9997a6"/>
<path d="M1055.6,373.7 L1062,373.7 L1061,380 L1062.5,383 L1061,386 L1062,390 L1060,396 L1055.6,396 Z" fill="#8a8897"/>
<line x1="1055.6" y1="374" x2="1055.6" y2="396" stroke="#6e6c7a" stroke-width="1"/>
<path d="M1036,404 Q1036,399 1043,398 Q1048,395.5 1055,396.5 Q1062,395 1068,397.5 Q1077,399 1078.7,404 Q1078,406.8 1070,406.8 L1043,406.8 Q1036,406.8 1036,404 Z" fill="#d3d3d3"/>
<path d="M1037,405 Q1056,407.5 1078,405" fill="none" stroke="#a9a9a9" stroke-width="1.2"/>
</g>
<rect x="1102" y="372" width="580" height="4" fill="#050505"/>
<rect x="1678" y="284" width="4" height="92" fill="#050505"/>
<rect x="533" y="447.4" width="442" height="4" fill="#050505"/>
<g clip-path="url(#cSil)" fill="#fff"><rect x="533" y="447.4" width="442" height="4"/></g>
<rect x="971" y="447.4" width="4" height="135" fill="#fff"/>
<circle cx="972.8" cy="503" r="10.8" fill="#888b8e" stroke="#fff" stroke-width="3.2"/>
<circle cx="972.3" cy="582.6" r="15.2" fill="#25272a" stroke="#fff" stroke-width="4"/>
<rect x="382.2" y="835" width="300" height="4" fill="#050505"/>
<g clip-path="url(#cSil)" fill="#fff"><rect x="382.2" y="835" width="300" height="4"/></g>
<rect x="382.2" y="835" width="4" height="134.5" fill="#050505"/>
<circle cx="695.9" cy="836.6" r="14.4" fill="#1c1c1e" stroke="#fff" stroke-width="4"/>
<rect x="1318" y="615" width="329" height="4" fill="#050505"/>
<g clip-path="url(#cSil)" fill="#fff"><rect x="1318" y="615" width="60" height="4"/></g>
<rect x="1642.6" y="615" width="4" height="80" fill="#050505"/>
<circle cx="1305" cy="617" r="13.8" fill="#3f4245" stroke="#fff" stroke-width="4"/>
<rect x="1090" y="697" width="4" height="269" fill="#050505"/>
<g clip-path="url(#cSil)" fill="#fff"><rect x="1090" y="697" width="4" height="269"/></g>
<rect x="1090" y="961.8" width="269" height="4" fill="#050505"/>
<circle cx="1091.7" cy="682" r="14.5" fill="#25272a" stroke="#fff" stroke-width="4"/>
<g>
<rect x="770.8" y="1122.9" width="86" height="51.7" fill="#fff"/>
<rect x="770.8" y="1122.9" width="86" height="4" fill="#e3101d"/>
<rect x="770.8" y="1130.9" width="86" height="4" fill="#e3101d"/>
<rect x="770.8" y="1138.8" width="86" height="4" fill="#e3101d"/>
<rect x="770.8" y="1146.8" width="86" height="4" fill="#e3101d"/>
<rect x="770.8" y="1154.7" width="86" height="4" fill="#e3101d"/>
<rect x="770.8" y="1162.7" width="86" height="4" fill="#e3101d"/>
<rect x="770.8" y="1170.6" width="86" height="4" fill="#e3101d"/>
<rect x="770.8" y="1122.9" width="34.2" height="27.8" fill="#0c2388"/>
<circle cx="773.8" cy="1125.3" r="1.05" fill="#fff"/>
<circle cx="779.5" cy="1125.3" r="1.05" fill="#fff"/>
<circle cx="785.2" cy="1125.3" r="1.05" fill="#fff"/>
<circle cx="791" cy="1125.3" r="1.05" fill="#fff"/>
<circle cx="796.7" cy="1125.3" r="1.05" fill="#fff"/>
<circle cx="802.4" cy="1125.3" r="1.05" fill="#fff"/>
<circle cx="776.7" cy="1128.2" r="1.05" fill="#fff"/>
<circle cx="782.4" cy="1128.2" r="1.05" fill="#fff"/>
<circle cx="788.1" cy="1128.2" r="1.05" fill="#fff"/>
<circle cx="793.8" cy="1128.2" r="1.05" fill="#fff"/>
<circle cx="799.5" cy="1128.2" r="1.05" fill="#fff"/>
<circle cx="773.8" cy="1131" r="1.05" fill="#fff"/>
<circle cx="779.5" cy="1131" r="1.05" fill="#fff"/>
<circle cx="785.2" cy="1131" r="1.05" fill="#fff"/>
<circle cx="791" cy="1131" r="1.05" fill="#fff"/>
<circle cx="796.7" cy="1131" r="1.05" fill="#fff"/>
<circle cx="802.4" cy="1131" r="1.05" fill="#fff"/>
<circle cx="776.7" cy="1133.9" r="1.05" fill="#fff"/>
<circle cx="782.4" cy="1133.9" r="1.05" fill="#fff"/>
<circle cx="788.1" cy="1133.9" r="1.05" fill="#fff"/>
<circle cx="793.8" cy="1133.9" r="1.05" fill="#fff"/>
<circle cx="799.5" cy="1133.9" r="1.05" fill="#fff"/>
<circle cx="773.8" cy="1136.7" r="1.05" fill="#fff"/>
<circle cx="779.5" cy="1136.7" r="1.05" fill="#fff"/>
<circle cx="785.2" cy="1136.7" r="1.05" fill="#fff"/>
<circle cx="791" cy="1136.7" r="1.05" fill="#fff"/>
<circle cx="796.7" cy="1136.7" r="1.05" fill="#fff"/>
<circle cx="802.4" cy="1136.7" r="1.05" fill="#fff"/>
<circle cx="776.7" cy="1139.6" r="1.05" fill="#fff"/>
<circle cx="782.4" cy="1139.6" r="1.05" fill="#fff"/>
<circle cx="788.1" cy="1139.6" r="1.05" fill="#fff"/>
<circle cx="793.8" cy="1139.6" r="1.05" fill="#fff"/>
<circle cx="799.5" cy="1139.6" r="1.05" fill="#fff"/>
<circle cx="773.8" cy="1142.5" r="1.05" fill="#fff"/>
<circle cx="779.5" cy="1142.5" r="1.05" fill="#fff"/>
<circle cx="785.2" cy="1142.5" r="1.05" fill="#fff"/>
<circle cx="791" cy="1142.5" r="1.05" fill="#fff"/>
<circle cx="796.7" cy="1142.5" r="1.05" fill="#fff"/>
<circle cx="802.4" cy="1142.5" r="1.05" fill="#fff"/>
<circle cx="776.7" cy="1145.3" r="1.05" fill="#fff"/>
<circle cx="782.4" cy="1145.3" r="1.05" fill="#fff"/>
<circle cx="788.1" cy="1145.3" r="1.05" fill="#fff"/>
<circle cx="793.8" cy="1145.3" r="1.05" fill="#fff"/>
<circle cx="799.5" cy="1145.3" r="1.05" fill="#fff"/>
<circle cx="773.8" cy="1148.2" r="1.05" fill="#fff"/>
<circle cx="779.5" cy="1148.2" r="1.05" fill="#fff"/>
<circle cx="785.2" cy="1148.2" r="1.05" fill="#fff"/>
<circle cx="791" cy="1148.2" r="1.05" fill="#fff"/>
<circle cx="796.7" cy="1148.2" r="1.05" fill="#fff"/>
<circle cx="802.4" cy="1148.2" r="1.05" fill="#fff"/>
</g>
<g>
<text transform="translate(693.5,101) scale(0.58,1)" font-size="51.7" textLength="562.2" lengthAdjust="spacing">Quick Release Latch</text>
<text transform="translate(694.4,101) scale(0.58,1)" font-size="51.7" textLength="562.2" lengthAdjust="spacing">Quick Release Latch</text>
<text transform="translate(1567.5,270) scale(0.58,1)" font-size="51.7" textLength="367.4" lengthAdjust="spacing">Key Lockable</text>
<text transform="translate(1568.4,270) scale(0.58,1)" font-size="51.7" textLength="367.4" lengthAdjust="spacing">Key Lockable</text>
<text transform="translate(346.5,439) scale(0.58,1)" font-size="51.7" textLength="291.6" lengthAdjust="spacing">Hard Shell</text>
<text transform="translate(347.4,439) scale(0.58,1)" font-size="51.7" textLength="291.6" lengthAdjust="spacing">Hard Shell</text>
<text transform="translate(346.5,484) scale(0.58,1)" font-size="51.7" textLength="284.7" lengthAdjust="spacing">Lid &amp; Body</text>
<text transform="translate(347.4,484) scale(0.58,1)" font-size="51.7" textLength="284.7" lengthAdjust="spacing">Lid &amp; Body</text>
<text transform="translate(227,1018) scale(0.58,1)" font-size="52.3" textLength="511.4" lengthAdjust="spacing">Weather Resistant</text>
<text transform="translate(227.9,1018) scale(0.58,1)" font-size="52.3" textLength="511.4" lengthAdjust="spacing">Weather Resistant</text>
<text transform="translate(1480,747) scale(0.58,1)" font-size="51" textLength="595" lengthAdjust="spacing">Detachable Liner Bag</text>
<text transform="translate(1480.9,747) scale(0.58,1)" font-size="51" textLength="595" lengthAdjust="spacing">Detachable Liner Bag</text>
<text transform="translate(1371,977) scale(0.58,1)" font-size="50.6" textLength="515.7" lengthAdjust="spacing">Internal Organizer</text>
<text transform="translate(1371.9,977) scale(0.58,1)" font-size="50.6" textLength="515.7" lengthAdjust="spacing">Internal Organizer</text>
<text transform="translate(905,1165) scale(0.58,1)" font-size="53.6" textLength="648.4" lengthAdjust="spacing">American Engineering</text>
<text transform="translate(905.9,1165) scale(0.58,1)" font-size="53.6" textLength="648.4" lengthAdjust="spacing">American Engineering</text>
</g>
</svg>
</body></html>
